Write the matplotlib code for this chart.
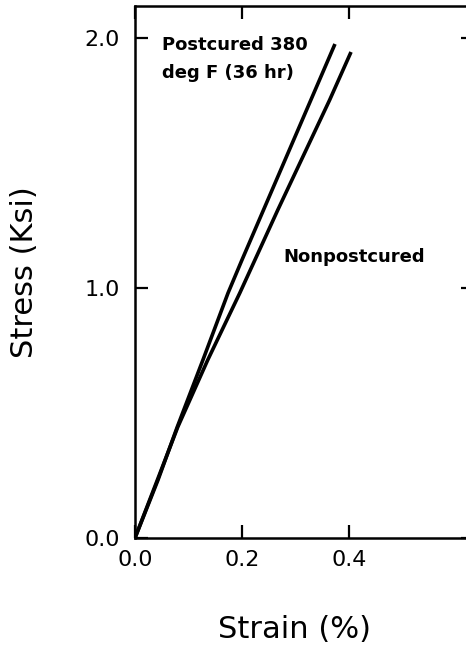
import matplotlib
matplotlib.use("Agg")
import matplotlib.pyplot as plt

# Data (strain %, stress ksi)
postcured_strain = [0.0, 0.043, 0.079, 0.127, 0.174, 0.200, 0.374]
postcured_stress = [0.0, 0.232, 0.444, 0.712, 0.980, 1.112, 1.976]
nonpost_strain = [0.0, 0.080, 0.136, 0.196, 0.267, 0.364, 0.404]
nonpost_stress = [0.0, 0.444, 0.712, 0.980, 1.312, 1.752, 1.944]

x_ticks = [0.0, 0.2, 0.4]
x_ticklabels = ["0.0", "0.2", "0.4"]
y_ticks = [0.0, 1.0, 2.0]
y_ticklabels = ["0.0", "1.0", "2.0"]

plt.rcParams['font.family'] = ['DejaVu Sans']

W, H = 466, 651
fig = plt.figure(figsize=(W / 100, H / 100), dpi=100)
left_px, right_px, top_px, bottom_px = 135, 474, 6, 538
ax = fig.add_axes([left_px / W, 1 - bottom_px / H,
                   (right_px - left_px) / W, (bottom_px - top_px) / H])

ax.plot(postcured_strain, postcured_stress, color='black', lw=2.6,
        solid_capstyle='butt', solid_joinstyle='round')
ax.plot(nonpost_strain, nonpost_stress, color='black', lw=2.6,
        solid_capstyle='butt', solid_joinstyle='round')

ax.set_xlim(0, 0.634)
ax.set_ylim(0, 2.128)

ax.set_xticks(x_ticks)
ax.set_xticklabels(x_ticklabels)
ax.set_yticks(y_ticks)
ax.set_yticklabels(y_ticklabels)

ax.tick_params(axis='both', direction='in', length=9.5, width=1.6,
               labelsize=16, top=True, right=True)
ax.tick_params(axis='x', pad=9)
ax.tick_params(axis='y', pad=11)
for s in ax.spines.values():
    s.set_linewidth(1.8)

ax.text(0.05, 1.972, "Postcured 380", fontsize=13, fontweight='bold',
        ha='left', va='center')
ax.text(0.05, 1.86, "deg F (36 hr)", fontsize=13, fontweight='bold',
        ha='left', va='center')
ax.text(0.277, 1.124, "Nonpostcured", fontsize=13, fontweight='bold',
        ha='left', va='center')

fig.text(295 / W, 1 - 630 / H, "Strain (%)", fontsize=22,
         ha='center', va='center')
fig.text(25 / W, 1 - 272 / H, "Stress (Ksi)", fontsize=22,
         ha='center', va='center', rotation=90)

fig.savefig("out.png", dpi=100)
